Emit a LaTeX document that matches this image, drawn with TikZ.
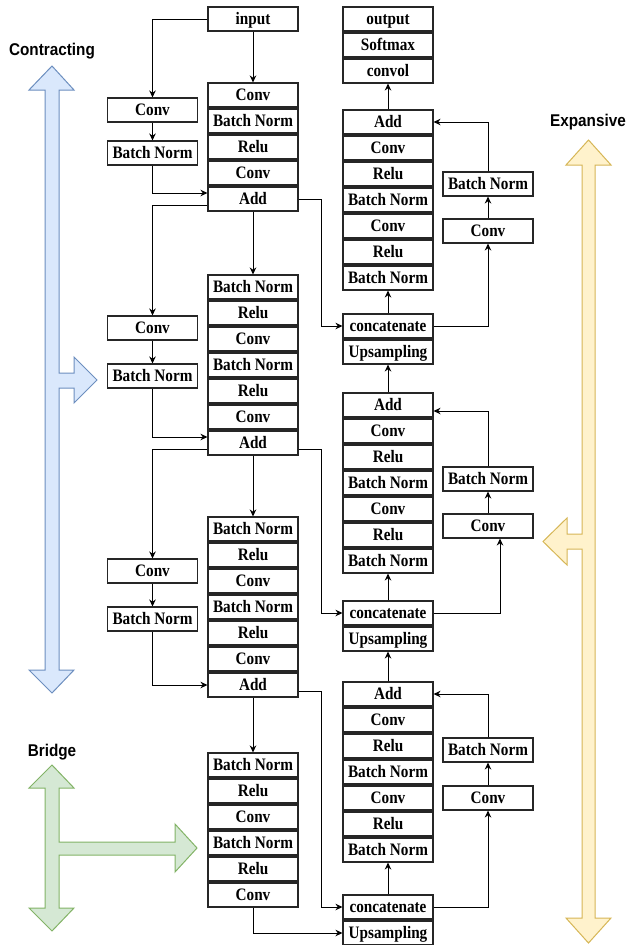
\documentclass[tikz,border=0pt]{standalone}
\usepackage{fontspec}
\setmainfont{Liberation Serif}
\newfontfamily\boxfont[FakeStretch=0.87]{Liberation Serif}
\newfontfamily\labfont[FakeStretch=0.9]{Liberation Sans}
\usetikzlibrary{arrows.meta}
\definecolor{bluefill}{HTML}{DAE8FC}\definecolor{bluedraw}{HTML}{6C8EBF}
\definecolor{yelfill}{HTML}{FFF2CC}\definecolor{yeldraw}{HTML}{D6B656}
\definecolor{grnfill}{HTML}{D5E8D4}\definecolor{grndraw}{HTML}{82B366}
\begin{document}
\begin{tikzpicture}[x=1pt,y=-1pt,
  blk/.style={draw=black!85, line width=1.1pt, fill=white, minimum width=90pt, minimum height=24pt, inner sep=0pt, text height=11.5pt, text depth=0pt, font=\boxfont\fontsize{17.5}{17.5}\selectfont\bfseries},
  con/.style={draw=black, line width=1pt, -{Stealth[length=7pt,width=6.5pt]}},
  lab/.style={font=\labfont\fontsize{17}{17}\selectfont\bfseries},
  bigarrow/.style={line width=1pt, line join=miter}]
\useasboundingbox (0,0) rectangle (627,945);
% ---------- big arrows ----------
\draw[bigarrow, fill=bluefill, draw=bluedraw]
  (52,66) -- (74,90) -- (59,90) -- (59,373) -- (74,373) -- (74,357) -- (97,380) -- (74,403) -- (74,388) -- (59,388)
  -- (59,670) -- (74,670) -- (52,693) -- (29,670) -- (45,670) -- (45,90) -- (29,90) -- cycle;
\draw[bigarrow, fill=grnfill, draw=grndraw]
  (52,765) -- (74,788) -- (59,788) -- (59,842) -- (175,842) -- (175,824) -- (197,848) -- (175,872) -- (175,855) -- (59,855)
  -- (59,908) -- (74,908) -- (52,931) -- (29,908) -- (45,908) -- (45,788) -- (29,788) -- cycle;
\draw[bigarrow, fill=yelfill, draw=yeldraw]
  (588.5,140) -- (611,165) -- (595,165) -- (595,918) -- (611,918) -- (588.5,943) -- (566,918) -- (582,918)
  -- (582,549) -- (567,549) -- (567,565) -- (543,541.5) -- (567,518) -- (567,534) -- (582,534) -- (582,165) -- (566,165) -- cycle;
\node[lab] (lcon) at (52,51) {Contracting};
\node[lab] (lexp) at (588,122) {Expansive};
\node[lab] (lbri) at (52,752) {Bridge};
% ---------- encoder ----------
\node[blk] (input) at (253,19) {input};
\node[blk] (e1a) at (253,95) {Conv};
\node[blk] (e1b) at (253,121) {Batch Norm};
\node[blk] (e1c) at (253,147) {Relu};
\node[blk] (e1d) at (253,173) {Conv};
\node[blk] (e1add) at (253,199) {Add};
\node[blk] (s1conv) at (152.5,110) {Conv};
\node[blk] (s1bn) at (152.5,153) {Batch Norm};
\node[blk] (e2a) at (253,287) {Batch Norm};
\node[blk] (e2b) at (253,313) {Relu};
\node[blk] (e2c) at (253,339) {Conv};
\node[blk] (e2d) at (253,365) {Batch Norm};
\node[blk] (e2e) at (253,391) {Relu};
\node[blk] (e2f) at (253,417) {Conv};
\node[blk] (e2add) at (253,443) {Add};
\node[blk] (s2conv) at (152.5,328) {Conv};
\node[blk] (s2bn) at (152.5,376) {Batch Norm};
\node[blk] (e3a) at (253,529) {Batch Norm};
\node[blk] (e3b) at (253,555) {Relu};
\node[blk] (e3c) at (253,581) {Conv};
\node[blk] (e3d) at (253,607) {Batch Norm};
\node[blk] (e3e) at (253,633) {Relu};
\node[blk] (e3f) at (253,659) {Conv};
\node[blk] (e3add) at (253,685) {Add};
\node[blk] (s3conv) at (152.5,571) {Conv};
\node[blk] (s3bn) at (152.5,619) {Batch Norm};
\node[blk] (ba) at (253,765) {Batch Norm};
\node[blk] (bb) at (253,791) {Relu};
\node[blk] (bc) at (253,817) {Conv};
\node[blk] (bd) at (253,843) {Batch Norm};
\node[blk] (be) at (253,869) {Relu};
\node[blk] (bf) at (253,895) {Conv};
% ---------- decoder ----------
\node[blk] (out) at (388,19) {output};
\node[blk] (soft) at (388,45) {Softmax};
\node[blk] (convol) at (388,71) {convol};
\node[blk] (d1add) at (388,122) {Add};
\node[blk] (d1b) at (388,148) {Conv};
\node[blk] (d1c) at (388,174) {Relu};
\node[blk] (d1d) at (388,200) {Batch Norm};
\node[blk] (d1e) at (388,226) {Conv};
\node[blk] (d1f) at (388,252) {Relu};
\node[blk] (d1g) at (388,278) {Batch Norm};
\node[blk] (d1cat) at (388,326) {concatenate};
\node[blk] (ups1) at (388,352) {Upsampling};
\node[blk] (d2add) at (388,405) {Add};
\node[blk] (d2b) at (388,431) {Conv};
\node[blk] (d2c) at (388,457) {Relu};
\node[blk] (d2d) at (388,483) {Batch Norm};
\node[blk] (d2e) at (388,509) {Conv};
\node[blk] (d2f) at (388,535) {Relu};
\node[blk] (d2g) at (388,561) {Batch Norm};
\node[blk] (d2cat) at (388,613) {concatenate};
\node[blk] (ups2) at (388,639) {Upsampling};
\node[blk] (d3add) at (388,694) {Add};
\node[blk] (d3b) at (388,720) {Conv};
\node[blk] (d3c) at (388,746) {Relu};
\node[blk] (d3d) at (388,772) {Batch Norm};
\node[blk] (d3e) at (388,798) {Conv};
\node[blk] (d3f) at (388,824) {Relu};
\node[blk] (d3g) at (388,850) {Batch Norm};
\node[blk] (d3cat) at (388,907) {concatenate};
\node[blk] (ups3) at (388,933) {Upsampling};
\node[blk] (ds1bn) at (488,184) {Batch Norm};
\node[blk] (ds1conv) at (488,231) {Conv};
\node[blk] (ds2bn) at (488,479) {Batch Norm};
\node[blk] (ds2conv) at (488,526) {Conv};
\node[blk] (ds3bn) at (488,750) {Batch Norm};
\node[blk] (ds3conv) at (488,798) {Conv};
% ---------- encoder connectors ----------
\draw[con] (input.west) -| (s1conv.north);
\draw[con] (input.south) -- (e1a.north);
\draw[con] (s1conv.south) -- (s1bn.north);
\draw[con] (s1bn.south) |- ([yshift=6pt]e1add.west);
\draw[con] ([yshift=-6pt]e1add.west) -| (s2conv.north);
\draw[con] (e1add.south) -- (e2a.north);
\draw[con] (s2conv.south) -- (s2bn.north);
\draw[con] (s2bn.south) |- ([yshift=6pt]e2add.west);
\draw[con] ([yshift=-6pt]e2add.west) -| (s3conv.north);
\draw[con] (e2add.south) -- (e3a.north);
\draw[con] (s3conv.south) -- (s3bn.north);
\draw[con] (s3bn.south) |- (e3add.west);
\draw[con] (e3add.south) -- (ba.north);
\draw[con] (bf.south) |- (ups3.west);
% ---------- skip connections ----------
\draw[con] (e1add.east) -- ++(23,0) |- (d1cat.west);
\draw[con] ([yshift=-6pt]e2add.east) -- ++(23,0) |- (d2cat.west);
\draw[con] ([yshift=-6pt]e3add.east) -- ++(23,0) |- (d3cat.west);
% ---------- decoder connectors ----------
\draw[con] (d1add.north) -- (convol.south);
\draw[con] (d1cat.north) -- (d1g.south);
\draw[con] (d1cat.east) -| (ds1conv.south);
\draw[con] (ds1conv.north) -- (ds1bn.south);
\draw[con] (ds1bn.north) |- (d1add.east);
\draw[con] (d2add.north) -- (ups1.south);
\draw[con] (d2cat.north) -- (d2g.south);
\draw[con] (d2cat.east) -| ([xshift=12pt]ds2conv.south);
\draw[con] (ds2conv.north) -- (ds2bn.south);
\draw[con] (ds2bn.north) |- ([yshift=-6pt]d2add.east);
\draw[con] (d3add.north) -- (ups2.south);
\draw[con] (d3cat.north) -- (d3g.south);
\draw[con] (d3cat.east) -| (ds3conv.south);
\draw[con] (ds3conv.north) -- (ds3bn.south);
\draw[con] (ds3bn.north) |- (d3add.east);
\end{tikzpicture}
\end{document}
